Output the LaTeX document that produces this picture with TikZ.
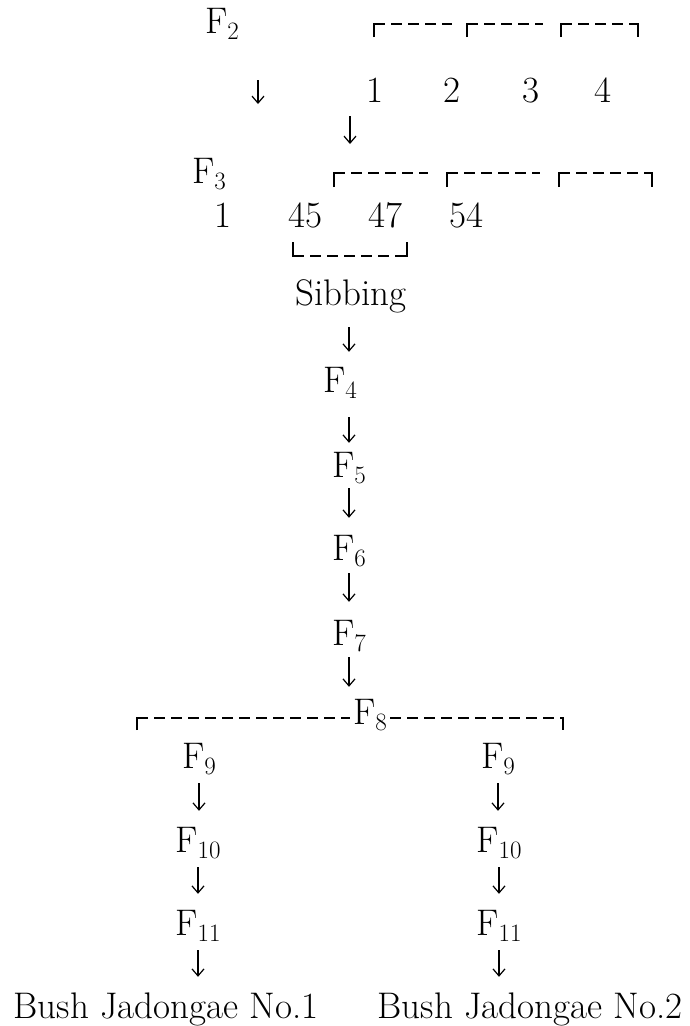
\documentclass[tikz,border=0pt]{standalone}
\usepackage{fontspec}
\usetikzlibrary{arrows.meta}
\newcommand\gen[1]{F\raisebox{-6pt}{\fontsize{25}{25}\selectfont #1}}

\begin{document}
\begin{tikzpicture}[x=1pt, y=-1pt,
    every node/.style={font=\fontsize{37}{44}\selectfont, inner sep=0pt,
      text height=23pt, text depth=0pt, anchor=base},
    arr/.style={-{Straight Barb[length=7pt,width=12pt]}, line width=1.2pt},
    brk/.style={line width=1.3pt, dash pattern=on 11pt off 6pt},
    tick/.style={line width=1.8pt}]
    \useasboundingbox (0,0) rectangle (689,1026);

    % F2 and its four lines
    \node (F2) at (222,33) {\gen{2}};
    \node (n1) at (375,102) {1};
    \node (n2) at (452,102) {2};
    \node (n3) at (531,102) {3};
    \node (n4) at (603,102) {4};
    \foreach \a/\b in {374/452, 467/543, 561/638} {
        \draw[tick] (\a,37) -- (\a,23.4);
        \draw[brk] (\a,24) -- (\b,24);
    }
    \draw[tick] (638,23.4) -- (638,37);
    \coordinate (a1) at (258,80);
    \coordinate (b1) at (258,104);
    \draw[arr] (a1) -- (b1);
    \coordinate (a2) at (350,116);
    \coordinate (b2) at (350,144);
    \draw[arr] (a2) -- (b2);

    % F3 lines
    \node (F3) at (209,183) {\gen{3}};
    \node (r1) at (223,227) {1};
    \node (r45) at (305,227) {45};
    \node (r47) at (385,227) {47};
    \node (r54) at (466,227) {54};
    \foreach \a/\b in {334/428, 447/540, 559/652} {
        \draw[tick] (\a,187) -- (\a,172.4);
        \draw[brk] (\a,173) -- (\b,173);
    }
    \draw[tick] (652,172.4) -- (652,187);
    \draw[tick] (293,242) -- (293,256.6);
    \draw[brk] (293,256) -- (407,256);
    \draw[tick] (407,256.6) -- (407,242);

    % single line down to F8
    \node (sib) at (351,305) {Sibbing};
    \node (F4) at (340,392) {\gen{4}};
    \node (F5) at (349,477) {\gen{5}};
    \node (F6) at (349,560) {\gen{6}};
    \node (F7) at (349,645) {\gen{7}};
    \node (F8) at (370,724) {\gen{8}};
    \draw[arr, shorten <=22pt, shorten >=17pt] (sib.south -| F5) -- (F4.north -| F5);
    \draw[arr, shorten <=25pt, shorten >=11pt] (F4.south -| F5) -- (F5.north);
    \draw[arr, shorten <=11pt, shorten >=19pt] (F5.south) -- (F6.north);
    \draw[arr, shorten <=13pt, shorten >=20pt] (F6.south) -- (F7.north);
    \draw[arr, shorten <=12pt, shorten >=14pt] (F7.south) -- (F8.north -| F7);

    % split at F8
    \draw[tick] (137,730) -- (137,717.4);
    \draw[brk] (137,718) -- (350,718);
    \draw[brk] (390,718) -- (563,718);
    \draw[tick] (563,717.4) -- (563,730);

    % two varieties
    \node (L9) at (199,768) {\gen{9}};
    \node (L10) at (198,852) {\gen{10}};
    \node (L11) at (198,935) {\gen{11}};
    \node (B1) at (166,1018) {Bush Jadongae No.1};
    \node (R9) at (498,768) {\gen{9}};
    \node (R10) at (499,852) {\gen{10}};
    \node (R11) at (499,935) {\gen{11}};
    \node (B2) at (530,1018) {Bush Jadongae No.2};
    \foreach \a/\b in {L9/L10, L10/L11, L11/B1, R9/R10, R10/R11, R11/B2}
        \draw[arr, shorten <=15pt, shorten >=18pt] (\a.south) -- (\b.north -| \a);
\end{tikzpicture}
\end{document}
